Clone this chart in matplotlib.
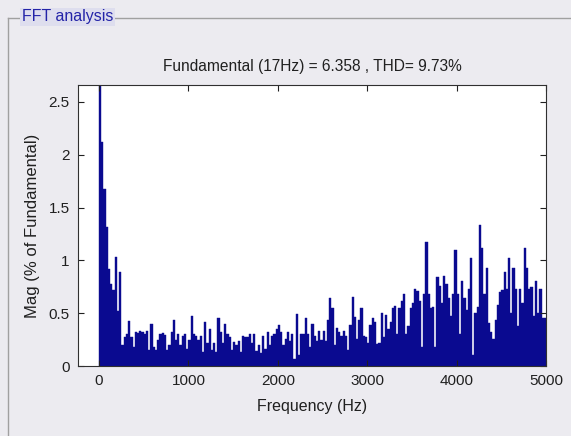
import numpy as np
import matplotlib
matplotlib.use("Agg")
import matplotlib.pyplot as plt
from matplotlib.lines import Line2D

# ---- data ----
title_text = "Fundamental (17Hz) = 6.358 , THD= 9.73%"
bin_width = 25  # Hz
mag = [
    100, 2.12, 1.68, 1.32, 0.92, 0.78, 0.72, 1.03, 0.52, 0.89,
    0.20, 0.27, 0.30, 0.43, 0.27, 0.18, 0.32, 0.31, 0.33, 0.32,
    0.30, 0.33, 0.15, 0.40, 0.18, 0.15, 0.25, 0.30, 0.31, 0.29,
    0.15, 0.20, 0.32, 0.44, 0.25, 0.30, 0.20, 0.28, 0.30, 0.16,
    0.25, 0.47, 0.30, 0.28, 0.25, 0.28, 0.13, 0.42, 0.22, 0.35,
    0.15, 0.22, 0.13, 0.45, 0.32, 0.22, 0.40, 0.30, 0.27, 0.15,
    0.23, 0.20, 0.24, 0.13, 0.28, 0.27, 0.27, 0.30, 0.22, 0.30,
    0.14, 0.20, 0.12, 0.28, 0.16, 0.32, 0.20, 0.28, 0.30, 0.35,
    0.39, 0.32, 0.20, 0.26, 0.32, 0.24, 0.30, 0.07, 0.49, 0.10,
    0.30, 0.30, 0.45, 0.30, 0.18, 0.40, 0.28, 0.24, 0.33, 0.25,
    0.33, 0.24, 0.44, 0.64, 0.55, 0.20, 0.36, 0.32, 0.28, 0.33,
    0.28, 0.15, 0.39, 0.65, 0.46, 0.26, 0.44, 0.55, 0.28, 0.27,
    0.22, 0.39, 0.45, 0.42, 0.21, 0.22, 0.50, 0.27, 0.48, 0.35,
    0.42, 0.55, 0.57, 0.30, 0.55, 0.62, 0.68, 0.30, 0.38, 0.55,
    0.60, 0.73, 0.71, 0.62, 0.18, 0.68, 1.17, 0.68, 0.55, 0.56,
    0.18, 0.84, 0.76, 0.60, 0.85, 0.78, 0.64, 0.47, 0.68, 1.10,
    0.68, 0.30, 0.80, 0.64, 0.53, 0.73, 1.02, 0.10, 0.50, 0.56,
    1.33, 1.12, 0.68, 0.93, 0.41, 0.32, 0.26, 0.44, 0.58, 0.70,
    0.72, 0.89, 0.73, 1.02, 0.50, 0.93, 0.73, 0.38, 0.73, 0.60,
    1.12, 0.93, 0.73, 0.75, 0.47, 0.80, 0.50, 0.73, 0.45, 0.45,
]
freq = np.arange(len(mag)) * bin_width
x_ticks = [0, 1000, 2000, 3000, 4000, 5000]
x_ticklabels = ["0", "1000", "2000", "3000", "4000", "5000"]
y_ticks = [0, 0.5, 1, 1.5, 2, 2.5]
y_ticklabels = ["0", "0.5", "1", "1.5", "2", "2.5"]

# ---- style ----
W, H = 571, 436
panel_bg = "#ECEBF0"
bar_color = "#0A0A90"
plt.rcParams['font.family'] = ['Liberation Sans', 'DejaVu Sans']

fig = plt.figure(figsize=(W / 100, H / 100), dpi=100)
fig.patch.set_facecolor(panel_bg)

# group box
fig.add_artist(Line2D([8 / W, 1.0], [1 - 18 / H, 1 - 18 / H], color="#A0A0A0", lw=1))
fig.add_artist(Line2D([8 / W, 8 / W], [1 - 18 / H, 0], color="#A0A0A0", lw=1))
fig.text(22 / W, 1 - 17 / H, "FFT analysis", color="#2424A8", fontsize=11.5,
         va="center", ha="left",
         bbox=dict(facecolor="#DEDEEE", edgecolor="none", pad=1.2))

ax = fig.add_axes([78 / W, 70 / H, (546 - 78) / W, (366 - 85) / H])
ax.set_facecolor("white")
ax.bar(freq, mag, width=bin_width, align="edge", color=bar_color,
       edgecolor=bar_color, linewidth=0.3)
ax.set_xlim(-235, 5000)
ax.set_ylim(0, 2.66)
ax.set_xticks(x_ticks)
ax.set_xticklabels(x_ticklabels)
ax.set_yticks(y_ticks)
ax.set_yticklabels(y_ticklabels)
ax.tick_params(direction="in", length=4, width=0.8, top=True, right=True,
               labelsize=11, colors="#202020", pad=6)
for s in ax.spines.values():
    s.set_color("#303030")
    s.set_linewidth(0.8)
ax.set_title(title_text, fontsize=11.2, color="#202020", pad=10)
ax.set_xlabel("Frequency (Hz)", fontsize=11.5, color="#202020", labelpad=8)
ax.set_ylabel("Mag (% of Fundamental)", fontsize=12, color="#202020", labelpad=6)

fig.savefig("out.png", dpi=100, facecolor=fig.get_facecolor())
